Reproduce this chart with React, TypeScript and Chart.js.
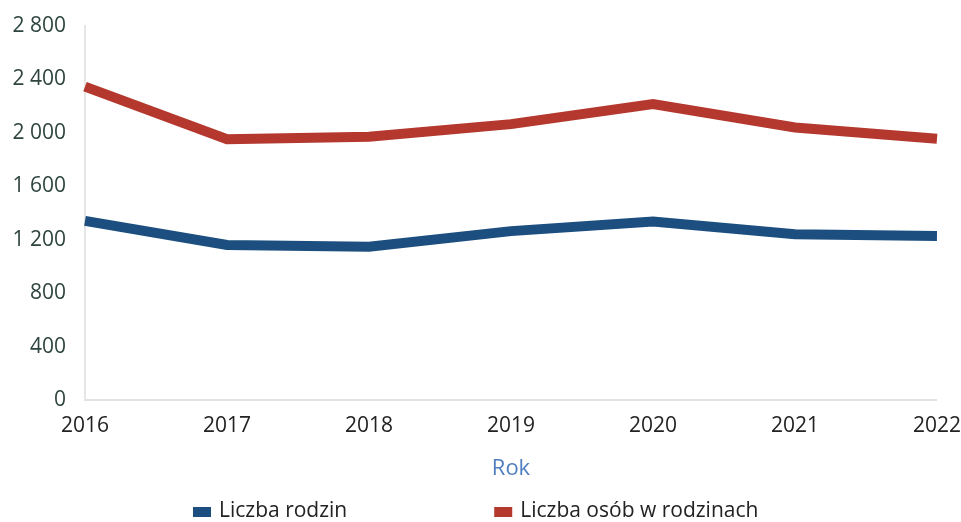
import React, { useEffect, useRef } from "react";
import { Chart, registerables } from "chart.js";

Chart.register(...registerables);

const years: string[] = ["2016", "2017", "2018", "2019", "2020", "2021", "2022"];
const liczbaRodzin: number[] = [1343, 1162, 1150, 1266, 1338, 1242, 1230];
const liczbaOsob: number[] = [2347, 1953, 1971, 2066, 2217, 2041, 1956];
const seriesLabels: string[] = ["Liczba rodzin", "Liczba osób w rodzinach"];
const seriesColors: string[] = ["#1c4f7f", "#b5382f"];
const axisTitle = "Rok";
const yMin = 0;
const yMax = 2800;
const yStep = 400;

const FONT = '"Open Sans", "Noto Sans", sans-serif';

const fmt = (v: number) => String(v).replace(/\B(?=(\d{3})+(?!\d))/g, " ");

const legendPlugin = {
  id: "customLegend",
  afterDraw(chart: any) {
    const ctx = chart.ctx;
    ctx.save();
    ctx.font = `21px ${FONT}`;
    ctx.textBaseline = "middle";
    ctx.textAlign = "left";
    const y = 511;
    const boxW = 18;
    const boxH = 10;
    const gap = 8;
    const itemGap = 147;
    let x = 193;
    seriesLabels.forEach((label, i) => {
      ctx.fillStyle = seriesColors[i];
      ctx.fillRect(x, y - boxH / 2 + 1, boxW, boxH);
      ctx.fillStyle = "#222222";
      ctx.fillText(label, x + boxW + gap, y);
      x += boxW + gap + ctx.measureText(label).width + itemGap;
    });
    ctx.restore();
  },
};

export default function App() {
  const ref = useRef<HTMLCanvasElement | null>(null);
  useEffect(() => {
    if (!ref.current) return;
    const chart = new Chart(ref.current, {
      type: "line",
      data: {
        labels: years,
        datasets: [
          {
            label: seriesLabels[0],
            data: liczbaRodzin,
            borderColor: seriesColors[0],
            backgroundColor: seriesColors[0],
            borderWidth: 10,
            pointRadius: 0,
            tension: 0,
            borderCapStyle: "butt",
          },
          {
            label: seriesLabels[1],
            data: liczbaOsob,
            borderColor: seriesColors[1],
            backgroundColor: seriesColors[1],
            borderWidth: 10,
            pointRadius: 0,
            tension: 0,
            borderCapStyle: "butt",
          },
        ],
      },
      options: {
        responsive: false,
        animation: false,
        layout: { padding: { left: 12, top: 26, right: 0, bottom: 36 } },
        plugins: {
          legend: { display: false },
          tooltip: { enabled: false },
        },
        scales: {
          x: {
            grid: {
              display: true,
              drawOnChartArea: false,
              drawTicks: true,
              tickLength: 13,
              color: "rgba(0,0,0,0)",
              tickColor: "rgba(0,0,0,0)",
            },
            border: { display: true, color: "#e2e2e2", width: 2 },
            ticks: {
              color: "#222222",
              font: { family: FONT, size: 21, weight: "500" },
              padding: 0,
              maxRotation: 0,
            },
            title: {
              display: true,
              text: axisTitle,
              color: "#4f7fc0",
              font: { family: FONT, size: 22 },
              padding: { top: 17, bottom: 4 },
            },
          },
          y: {
            min: yMin,
            max: yMax,
            grid: {
              display: true,
              drawOnChartArea: false,
              drawTicks: true,
              tickLength: 19,
              color: "rgba(0,0,0,0)",
              tickColor: "rgba(0,0,0,0)",
            },
            border: { display: true, color: "#e6e6e6", width: 2 },
            ticks: {
              stepSize: yStep,
              color: "#2f4540",
              font: { family: FONT, size: 21 },
              padding: 0,
              callback: (v: any) => fmt(Number(v)),
            },
            afterFit: (scale: any) => {
              scale.width = 73;
            },
          },
        },
      },
      plugins: [legendPlugin],
    });
    return () => chart.destroy();
  }, []);
  return (
    <div style={{ position: "absolute", left: 0, top: 0, width: 961, height: 522, background: "#fff" }}>
      <canvas ref={ref} width={961} height={522} style={{ display: "block" }} />
    </div>
  );
}
